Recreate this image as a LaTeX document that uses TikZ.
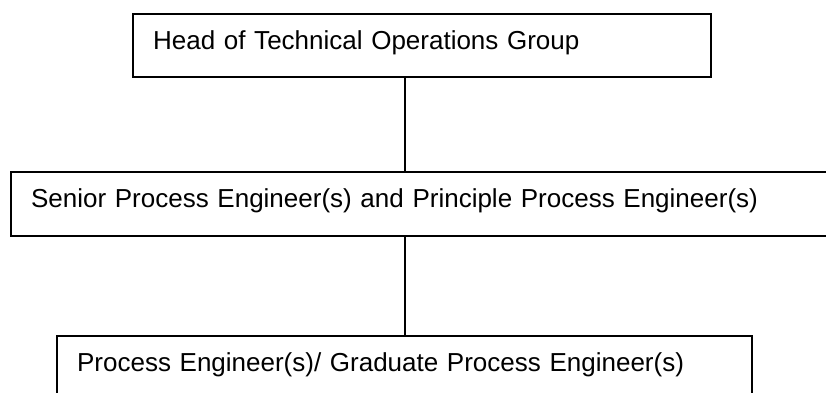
\documentclass[tikz,border=0pt]{standalone}
\usepackage{fontspec}
\setmainfont{Liberation Sans}
\usetikzlibrary{positioning}
\tikzset{
  orgbox/.style={
    draw,
    rectangle,
    line width=1.1pt,
    anchor=north west,
    align=left,
    inner xsep=10pt,
    inner ysep=0pt,
    text height=17.5pt,
    text depth=#1,
    font=\fontsize{13}{16}\selectfont
  },
  orgline/.style={line width=1.1pt}
}

\begin{document}
\begin{tikzpicture}[x=0.5pt,y=-0.5pt]
    \useasboundingbox (0,0) rectangle (826,392);
    \clip (0,0) rectangle (826,392);
    % boxes
    \node[orgbox=14pt,text width=269pt] (head) at (132,13)
        {Head of Technical Operations Group};
    \node[orgbox=14.5pt,text width=390pt] (senior) at (10,171)
        {Senior Process Engineer(s) and Principle Process Engineer(s)};
    \node[orgbox=16pt,text width=327.5pt] (proc) at (56,335)
        {Process Engineer(s)/ Graduate Process Engineer(s)};
    % connectors
    \draw[orgline] (head.south -| proc.north) -- (senior.north -| proc.north);
    \draw[orgline] (senior.south -| proc.north) -- (proc.north);
\end{tikzpicture}
\end{document}
